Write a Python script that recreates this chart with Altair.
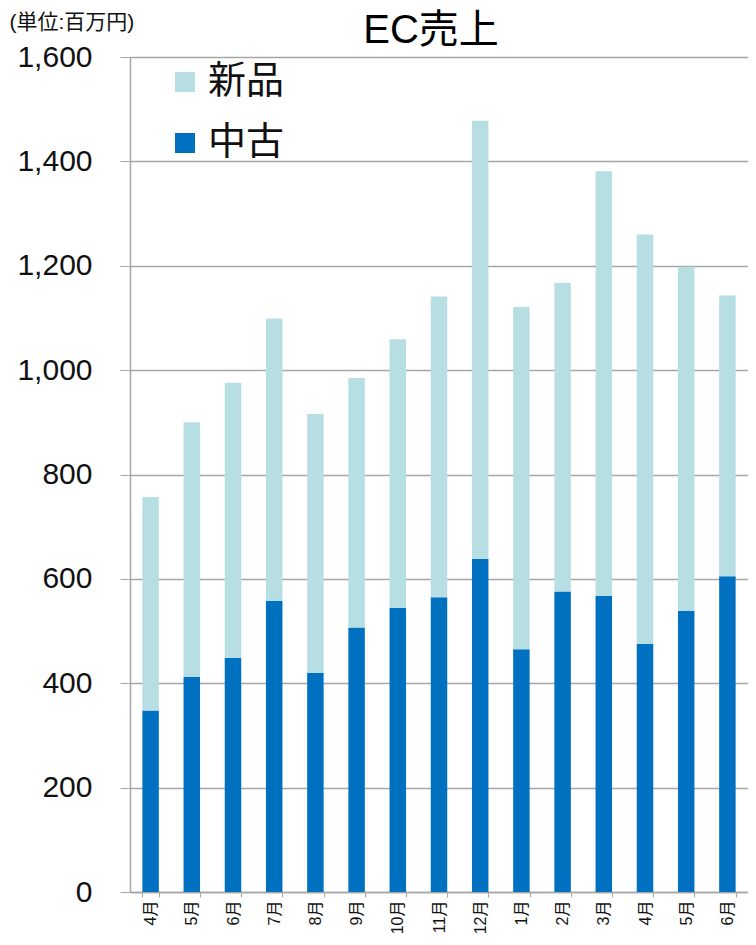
import json
import altair as alt
import pandas as pd

months = ["4月", "5月", "6月", "7月", "8月", "9月", "10月", "11月", "12月",
          "1月", "2月", "3月", "4月", "5月", "6月"]
used = [348, 412, 449, 558, 420, 507, 544, 565, 638, 465, 576, 567, 475, 539, 605]
new = [409, 488, 527, 541, 496, 478, 515, 576, 840, 656, 591, 814, 785, 659, 538]
series_names = ["新品", "中古"]
series_colors = ["#B7DEE3", "#0070C0"]
y_ticks = [0, 200, 400, 600, 800, 1000, 1200, 1400, 1600]
title_text = ["EC売上"]

rows = []
for i, (u, n) in enumerate(zip(used, new)):
    rows.append({"idx": i, "series": "中古", "value": u, "ord": 0})
    rows.append({"idx": i, "series": "新品", "value": n, "ord": 1})
df = pd.DataFrame(rows)

label_expr = json.dumps(months, ensure_ascii=False) + "[datum.value]"
FONT = "Liberation Sans, Noto Sans CJK JP, sans-serif"
GRID = "#A6A6A6"

bars = alt.Chart(df).mark_bar().encode(
    x=alt.X(
        "idx:O",
        scale=alt.Scale(paddingInner=0.6, paddingOuter=0.3),
        axis=alt.Axis(
            title=None, labelExpr=label_expr, labelAngle=270,
            labelAlign="right", labelBaseline="middle",
            labelFontSize=16, labelColor="#111111", labelPadding=3,
            tickBand="extent", tickSize=5, tickColor=GRID,
            domainColor=GRID, domainWidth=1.5, grid=False,
        ),
    ),
    y=alt.Y(
        "value:Q", stack="zero",
        scale=alt.Scale(domain=[0, 1600], nice=False),
        axis=alt.Axis(
            values=y_ticks, format=",d", tickSize=10, tickColor=GRID,
            labelPadding=28, labelFontSize=30, labelColor="#111111",
            domainColor=GRID, domainWidth=1.5,
            gridColor=GRID, gridWidth=1.5,
            title="(単位:百万円)", titleAngle=0, titleX=-121, titleY=-35,
            titleAlign="left", titleBaseline="middle", titleFontSize=21,
            titleFontWeight="normal", titleColor="#111111",
        ),
    ),
    color=alt.Color(
        "series:N",
        scale=alt.Scale(domain=series_names, range=series_colors),
        legend=alt.Legend(
            title=None, orient="none", legendX=36, legendY=6,
            symbolType="square", symbolSize=400, symbolStrokeWidth=0,
            labelFontSize=38, labelColor="#111111", rowPadding=23,
            padding=0, labelOffset=4,
        ),
    ),
    order=alt.Order("ord:Q"),
)

title = alt.Chart(pd.DataFrame({"t": title_text})).mark_text(
    fontSize=40, align="center", baseline="alphabetic", color="#000000"
).encode(
    text="t:N",
    x=alt.value(301),
    y=alt.value(-14),
)

chart = alt.layer(bars, title).properties(
    width=618,
    height=835,
    autosize=alt.AutoSizeParams(type="none"),
    padding={"left": 122, "top": 49, "right": 0, "bottom": 44},
).configure(
    font=FONT, background="white"
).configure_view(stroke=None)

chart.save("out.html", embed_options={"renderer": "svg", "actions": False})
